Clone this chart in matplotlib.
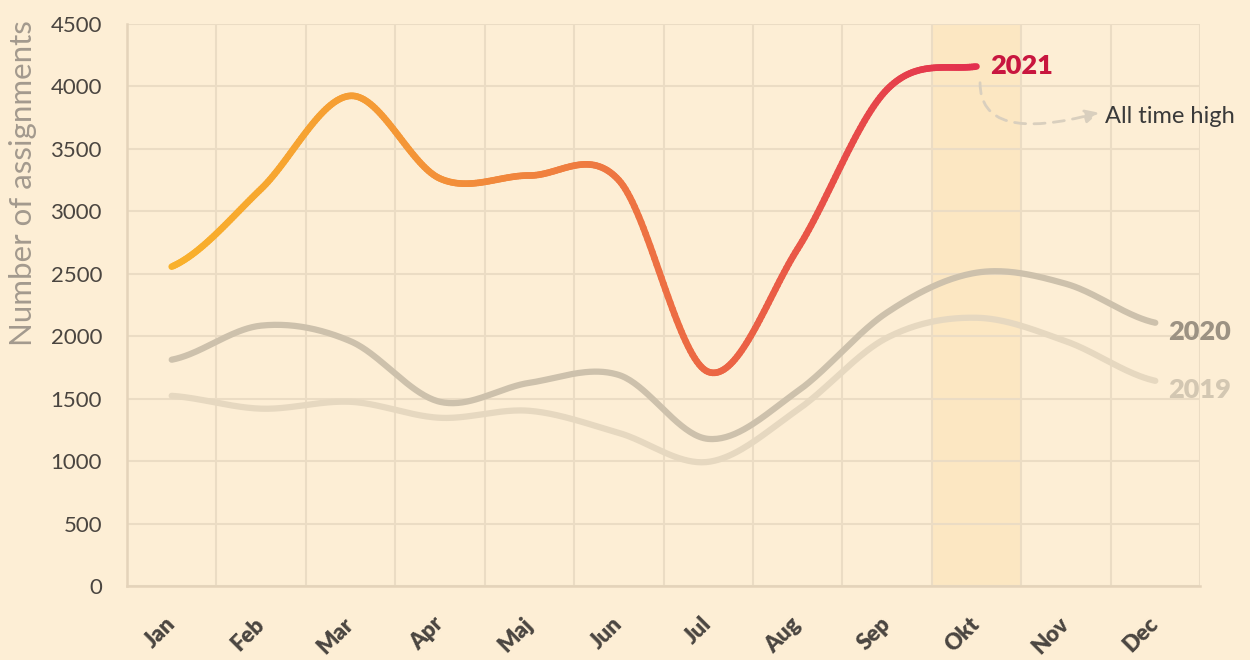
import numpy as np
import matplotlib
matplotlib.use("Agg")
import matplotlib.pyplot as plt
from matplotlib.collections import LineCollection
from matplotlib.colors import LinearSegmentedColormap
from matplotlib.ticker import FixedLocator

# data
months = ['Jan', 'Feb', 'Mar', 'Apr', 'Maj', 'Jun', 'Jul', 'Aug', 'Sep', 'Okt', 'Nov', 'Dec']
y2021 = [2557, 3180, 3925, 3263, 3287, 3250, 1715, 2700, 3976, 4160]
y2020 = [1812, 2085, 1960, 1475, 1627, 1690, 1178, 1560, 2190, 2509, 2420, 2108]
y2019 = [1523, 1420, 1475, 1347, 1403, 1226, 994, 1411, 1988, 2148, 1960, 1643]
yticks = [0, 500, 1000, 1500, 2000, 2500, 3000, 3500, 4000, 4500]

BG = '#FDEED5'
GRID = '#EBDCC4'
TXT = '#4A4540'

plt.rcParams['font.family'] = ['Lato', 'DejaVu Sans']


def smooth(y, n=40):
    # catmull-rom through the monthly values, only for drawing
    y = np.asarray(y, float)
    p = np.concatenate([[y[0]], y, [y[-1]]])
    xs, ys = [], []
    for i in range(len(y) - 1):
        p0, p1, p2, p3 = p[i], p[i + 1], p[i + 2], p[i + 3]
        t = np.linspace(0, 1, n, endpoint=False)
        v = 0.5 * (2 * p1 + (-p0 + p2) * t + (2 * p0 - 5 * p1 + 4 * p2 - p3) * t ** 2
                   + (-p0 + 3 * p1 - 3 * p2 + p3) * t ** 3)
        xs.append(i + t)
        ys.append(v)
    xs.append([len(y) - 1])
    ys.append([y[-1]])
    return np.concatenate(xs), np.concatenate(ys)


fig = plt.figure(figsize=(12.5, 6.6), dpi=100, facecolor=BG)
ax = fig.add_axes([0.1016, 0.1121, 0.8584, 0.8515])
ax.set_facecolor(BG)

ax.set_xlim(-0.5, 11.5)
ax.set_ylim(0, 4500)

# highlighted month
ax.axvspan(8.5, 9.5, color='#FCE6BE', alpha=0.8, lw=0, zorder=0)

ax.xaxis.set_major_locator(FixedLocator(range(12)))
ax.xaxis.set_minor_locator(FixedLocator(np.arange(-0.5, 12, 1)))
ax.set_yticks(yticks)
ax.grid(which='minor', axis='x', color=GRID, lw=1.5, zorder=1)
ax.grid(which='major', axis='y', color=GRID, lw=1.5, zorder=1)
ax.tick_params(which='both', length=0)
for s in ['top', 'right']:
    ax.spines[s].set_visible(False)
for s in ['left', 'bottom']:
    ax.spines[s].set_color('#E4D3BA')
    ax.spines[s].set_linewidth(1.8)

ax.set_xticks(range(12))
ax.set_xticklabels(months, rotation=45, ha='right', va='center', rotation_mode='anchor',
                   fontsize=16, fontweight='heavy', color=TXT)
ax.tick_params(axis='x', pad=25)
ax.set_yticklabels([str(v) for v in yticks], fontsize=16, color=TXT)
ax.tick_params(axis='y', pad=18)

fig.text(23 / 1250, 1 - 183 / 660, 'Number of assignments', rotation=90, ha='center', va='center',
         fontsize=22.5, color='#A39A8E')

# 2019 and 2020
x19, s19 = smooth(y2019)
ax.plot(x19, s19, color='#E6D8C0', lw=4.5, solid_capstyle='round', zorder=3)
x20, s20 = smooth(y2020)
ax.plot(x20, s20, color='#CDC1AC', lw=4.5, solid_capstyle='round', zorder=4)

# 2021 with gradient
cmap = LinearSegmentedColormap.from_list('yr', ['#F9B12B', '#F59B35', '#EF7D40', '#EA5D46', '#E3304E'])
x21, s21 = smooth(y2021)
pts = np.column_stack([x21, s21]).reshape(-1, 1, 2)
segs = np.concatenate([pts[:-1], pts[1:]], axis=1)
lc = LineCollection(segs, cmap=cmap, linewidths=4.8, capstyle='round', zorder=5)
lc.set_array(x21[:-1] / x21[-1])
ax.add_collection(lc)

ax.text(9.15, y2021[-1], '2021', fontsize=19.5, fontweight='heavy', color='#C8163F',
        ha='left', va='center', zorder=6)
ax.text(11.14, 2036, '2020', fontsize=19.5, fontweight='heavy', color='#9C9283',
        ha='left', va='center', clip_on=False)
ax.text(11.14, 1571, '2019', fontsize=19.5, fontweight='heavy', color='#D3C7B2',
        ha='left', va='center', clip_on=False)

ax.annotate('', xy=(10.37, 3790), xytext=(9.04, 4030), annotation_clip=False,
            arrowprops=dict(arrowstyle='-|>', color='#D9CFBE', lw=2, ls=(0, (4, 3)),
                            connectionstyle='angle3,angleA=90,angleB=15', shrinkA=0, shrinkB=0,
                            mutation_scale=20))
ax.text(10.44, 3760, 'All time high', fontsize=17, color='#3A3A3A', ha='left', va='center',
        clip_on=False)

fig.savefig('out.png', dpi=100, facecolor=BG)
